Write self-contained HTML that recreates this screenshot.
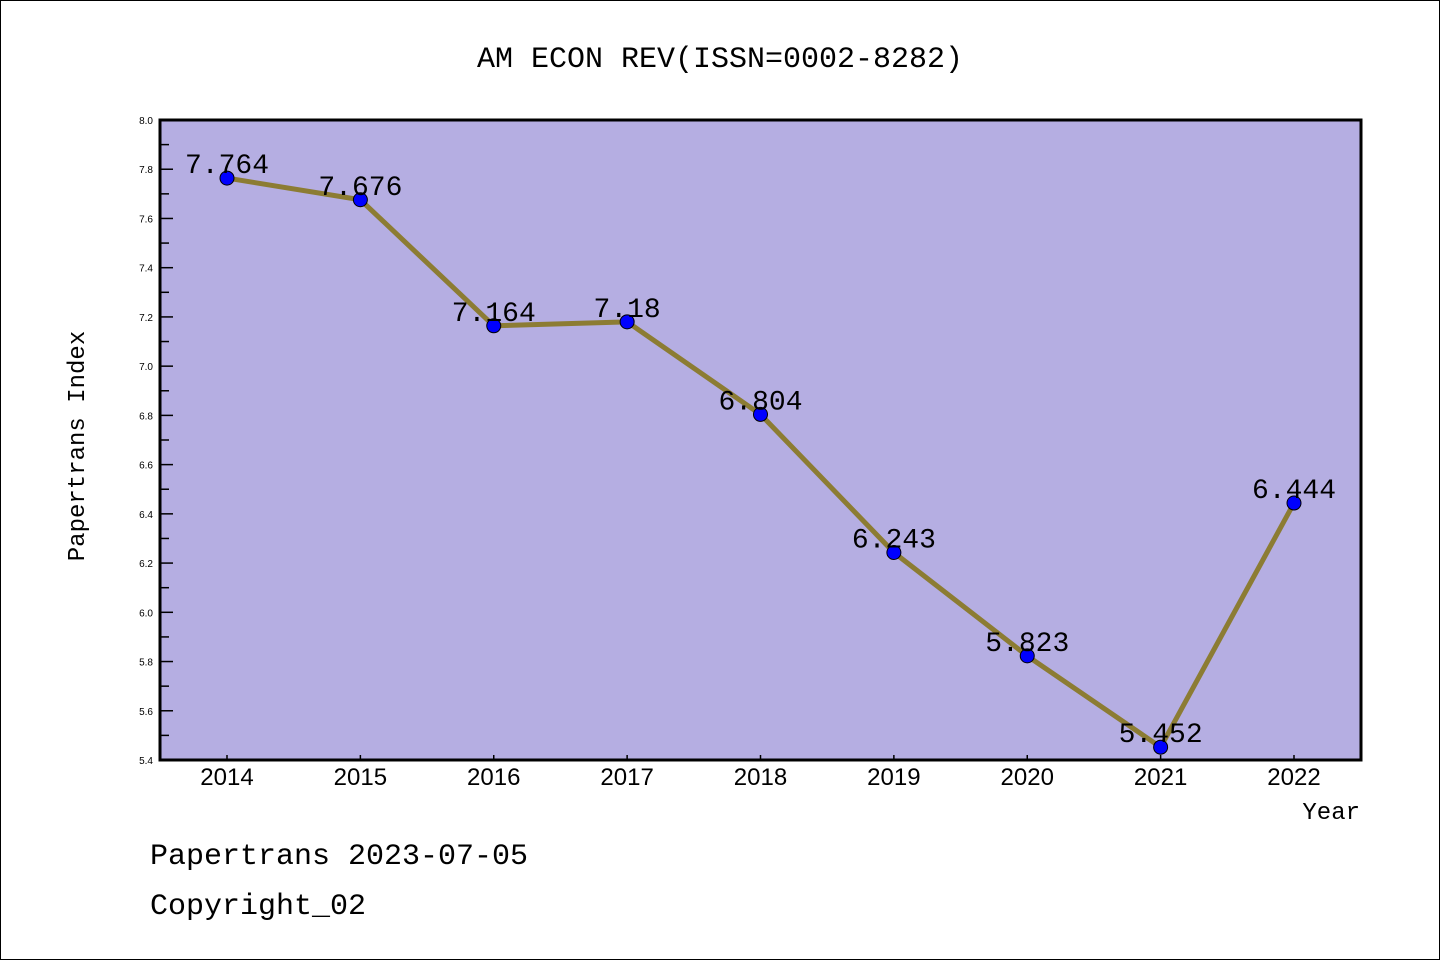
<!DOCTYPE html>
<html><head><meta charset="utf-8"><style>
html,body{margin:0;padding:0;background:#fff;}
svg{display:block;font-family:"Liberation Sans","DejaVu Sans",sans-serif;}
</style></head><body>
<svg id="chart" width="1440" height="960" viewBox="0 0 1440 960" xmlns="http://www.w3.org/2000/svg">
<rect x="0.5" y="0.5" width="1439" height="959" fill="#fff" stroke="#000" stroke-width="1"/>
<text x="720" y="67" text-anchor="middle" font-family="Liberation Mono, DejaVu Sans Mono, monospace" font-size="30" fill="#000">AM ECON REV(ISSN=0002-8282)</text>
<rect x="160" y="120" width="1201" height="640" fill="#b5aee2"/>
<g id="yticks"></g>
<g id="xticks"></g>
<g id="series"></g>
<rect x="160" y="120" width="1201" height="640" fill="none" stroke="#000" stroke-width="3"/>
<text transform="translate(84,446) rotate(-90)" text-anchor="middle" font-family="Liberation Mono, DejaVu Sans Mono, monospace" font-size="24" fill="#000">Papertrans Index</text>
<text x="1360" y="819" text-anchor="end" font-family="Liberation Mono, DejaVu Sans Mono, monospace" font-size="24" fill="#000">Year</text>
<text x="150" y="864" font-family="Liberation Mono, DejaVu Sans Mono, monospace" font-size="30" fill="#000">Papertrans 2023-07-05</text>
<text x="150" y="914" font-family="Liberation Mono, DejaVu Sans Mono, monospace" font-size="30" fill="#000">Copyright_02</text>
</svg>
<script>
const years = ["2014","2015","2016","2017","2018","2019","2020","2021","2022"];
const values = [7.764,7.676,7.164,7.18,6.804,6.243,5.823,5.452,6.444];
const valueLabels = ["7.764","7.676","7.164","7.18","6.804","6.243","5.823","5.452","6.444"];
const yTickLabels = ["5.4","5.6","5.8","6.0","6.2","6.4","6.6","6.8","7.0","7.2","7.4","7.6","7.8","8.0"];
const yMin = 5.4, yMax = 8.0;
const NS = "http://www.w3.org/2000/svg";
function yScale(v){ return 760 - (v - yMin) / (yMax - yMin) * 640; }
function xScale(i){ return 227 + i * (1294 - 227) / (years.length - 1); }
function mk(tag, attrs){ const e=document.createElementNS(NS,tag); for(const k in attrs) e.setAttribute(k,attrs[k]); return e; }
const yt=document.getElementById('yticks');
yTickLabels.forEach(function(l){
  const v=parseFloat(l), y=yScale(v);
  const t=mk('line',{x1:160,x2:173,y1:y,y2:y,stroke:'#000','stroke-width':1.5});
  
  
  yt.appendChild(t);
  const tx=mk('text',{x:153,y:y+4,'text-anchor':'end','font-size':10,fill:'#000'});
  tx.textContent=l;
  
  
  yt.appendChild(tx);
  if(v<yMax-0.01){
    const m=mk('line',{x1:160,x2:169,y1:yScale(v+0.1),y2:yScale(v+0.1),stroke:'#000','stroke-width':1.5});
    
    
    yt.appendChild(m);
  }
});
const xt=document.getElementById('xticks');
years.forEach(function(yr,i){
  const x=xScale(i);
  const t=mk('line',{x1:x,x2:x,y1:760,y2:755,stroke:'#000','stroke-width':1.5});
  
  
  xt.appendChild(t);
  const tx=mk('text',{x:x,y:785,'text-anchor':'middle','font-size':24,fill:'#000'});
  tx.textContent=yr;
  
  
  xt.appendChild(tx);
});
const s=document.getElementById('series');
const pts=values.map(function(v,i){return xScale(i)+','+yScale(v);}).join(' ');
const line=mk('polyline',{points:pts,fill:'none',stroke:'#8c7c33','stroke-width':5,'stroke-linejoin':'round'});


s.appendChild(line);
values.forEach(function(v,i){
  const c=mk('circle',{cx:xScale(i),cy:yScale(v),r:7,fill:'#0000ff',stroke:'#000','stroke-width':1});
  
  
  s.appendChild(c);
  const tx=mk('text',{x:xScale(i),y:yScale(v)-5,'text-anchor':'middle','font-size':28,fill:'#000','font-family':'Liberation Mono, DejaVu Sans Mono, monospace'});
  tx.textContent=valueLabels[i];
  
  
  s.appendChild(tx);
});
</script>
</body></html>
